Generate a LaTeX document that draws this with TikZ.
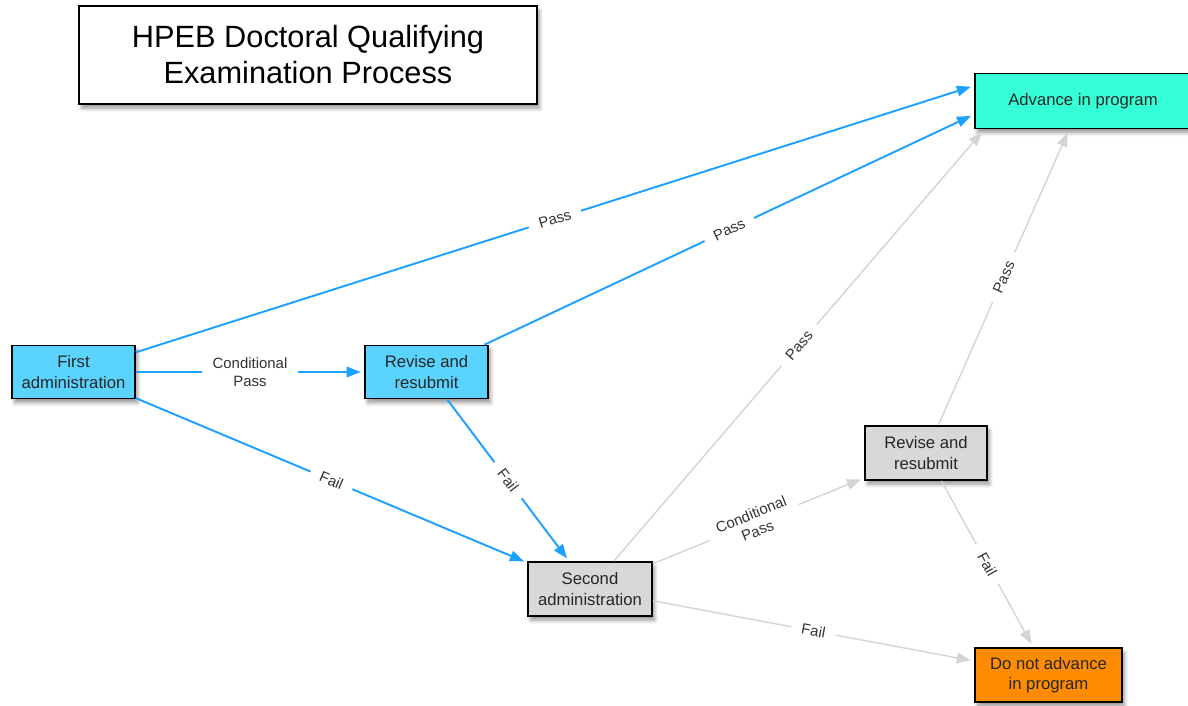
\documentclass[tikz,border=0pt]{standalone}
\usepackage{fontspec}
\setmainfont{Liberation Sans}
\usetikzlibrary{arrows.meta,shadows.blur}

\definecolor{boxblue}{RGB}{90,212,255}
\definecolor{boxmint}{RGB}{52,255,214}
\definecolor{boxorange}{RGB}{255,140,0}
\definecolor{boxgray}{RGB}{216,216,216}
\definecolor{lineblue}{RGB}{30,160,255}
\definecolor{linegray}{RGB}{212,212,212}

\begin{document}
\begin{tikzpicture}[x=0.02cm,y=-0.02cm,
    box/.style={draw=black, line width=0.9pt, align=center, inner sep=0pt,
      minimum width=2.46cm, minimum height=1.06cm, text=black!85,
      font=\fontsize{9.5}{11.5}\selectfont,
      blur shadow={shadow xshift=1.5pt, shadow yshift=-2.5pt, shadow blur steps=6}},
    blueline/.style={draw=lineblue, line width=1.1pt, shorten >=2pt,
      -{Triangle[length=8pt,width=6pt]}},
    grayline/.style={draw=linegray, line width=0.8pt, shorten >=2pt,
      -{Triangle[length=8pt,width=6pt]}},
    lab/.style={fill=white, sloped, align=center, text=black!80,
      inner xsep=6pt, inner ysep=1pt, font=\fontsize{8.5}{10}\selectfont}]
        \useasboundingbox (0,0) rectangle (1188,706);

        % boxes
        \node[box, fill=white, minimum width=9.16cm, minimum height=1.96cm,
          font=\fontsize{17.5}{20.5}\selectfont, text=black] (title) at (308,55)
          {HPEB Doctoral Qualifying\\Examination Process};
        \node[box, fill=boxmint, minimum width=4.32cm, minimum height=1.1cm] (advance) at (1083,101) {Advance in program};
        \node[box, fill=boxblue] (first) at (73.5,372) {First\\administration};
        \node[box, fill=boxblue] (revise) at (426.5,372) {Revise and\\resubmit};
        \node[box, fill=boxgray, minimum width=2.48cm, minimum height=1.08cm] (second) at (590,589) {Second\\administration};
        \node[box, fill=boxgray, minimum width=2.44cm, minimum height=1.08cm] (resubmit) at (926,453) {Revise and\\resubmit};
        \node[box, fill=boxorange, minimum width=2.94cm, minimum height=1.08cm] (noadvance) at (1048.5,675) {Do not advance\\in program};

        % first round
        \draw[blueline] (first) -- node[lab] {Pass} (advance.172.6);
        \draw[blueline] (first) -- node[lab] {Conditional\\Pass} (revise);
        \draw[blueline] (first) -- node[lab] {Fail} (second);
        \draw[blueline] (revise) -- node[lab] {Pass} (advance.187.4);
        \draw[blueline] (revise) -- node[lab] {Fail} (second);

        % second round
        \draw[grayline] (second) -- node[lab] {Pass} (advance.196.4);
        \draw[grayline] (second) -- node[lab, pos=0.48] {Conditional\\Pass} (resubmit);
        \draw[grayline] (second) -- node[lab] {Fail} (noadvance);
        \draw[grayline] (resubmit) -- node[lab] {Pass} (advance.244.3);
        \draw[grayline] (resubmit) -- node[lab] {Fail} (noadvance);
\end{tikzpicture}
\end{document}
